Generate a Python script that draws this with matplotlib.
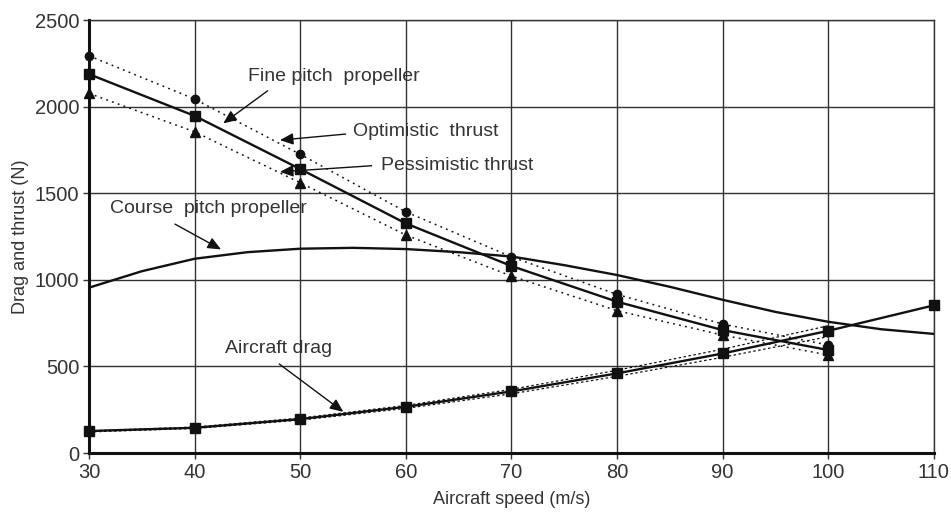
import matplotlib.pyplot as plt

plt.rcParams['font.family'] = ['Liberation Sans', 'DejaVu Sans']

TXT = '#333333'

speed = [30, 40, 50, 60, 70, 80, 90, 100]
fine_pitch = [2188, 1947, 1640, 1326, 1080, 874, 710, 595]
optimistic = [2294, 2044, 1725, 1393, 1133, 916, 745, 624]
pessimistic = [2077, 1855, 1561, 1259, 1022, 822, 681, 566]

course_speed = [30, 35, 40, 45, 50, 55, 60, 65, 70, 75, 80, 85, 90, 95, 100, 105, 110]
course_pitch = [955, 1050, 1122, 1160, 1180, 1185, 1178, 1160, 1135, 1085,
                1028, 960, 885, 815, 758, 715, 688]

drag_speed = [30, 40, 50, 60, 70, 80, 90, 100, 110]
drag = [127, 146, 196, 267, 356, 460, 575, 706, 853]
drag_high = [128, 150, 202, 275, 368, 478, 600, 735]
drag_low = [122, 142, 190, 258, 342, 443, 553, 672]

fig = plt.figure(figsize=(9.51, 5.16), dpi=100)
ax = fig.add_axes([0.0936, 0.122, 0.8884, 0.839])

# thrust curves
ax.plot(speed, optimistic, color='#111', lw=1.1, dashes=(1.2, 2.8),
        marker='o', ms=6, clip_on=False, zorder=3)
ax.plot(speed, pessimistic, color='#111', lw=1.1, dashes=(1.2, 2.8),
        marker='^', ms=6.5, clip_on=False, zorder=3)
ax.plot(speed, fine_pitch, '-', color='#111', lw=1.7, marker='s', ms=6.5,
        clip_on=False, zorder=4)
ax.plot(course_speed, course_pitch, '-', color='#111', lw=1.7, zorder=4)

# drag curves
ax.plot(speed, drag_high, color='#111', lw=0.9, dashes=(2, 2), zorder=3)
ax.plot(speed, drag_low, color='#111', lw=0.9, dashes=(2, 2), zorder=3)
ax.plot(drag_speed, drag, '-', color='#111', lw=1.7, marker='s', ms=6.5,
        clip_on=False, zorder=4)

ax.set_xlim(30, 110)
ax.set_ylim(0, 2500)
ax.set_xticks(range(30, 111, 10))
ax.set_yticks(range(0, 2501, 500))
ax.grid(True, color='#333', lw=1)
ax.set_axisbelow(True)

for s in ['top', 'right']:
    ax.spines[s].set_linewidth(1)
    ax.spines[s].set_color('#333')
for s in ['left', 'bottom']:
    ax.spines[s].set_linewidth(2.2)
    ax.spines[s].set_color('#111')
ax.tick_params(direction='out', length=4, width=1, colors='#333',
               labelsize=14.5, labelcolor=TXT, pad=3)

ax.set_xlabel('Aircraft speed (m/s)', fontsize=13, color=TXT, labelpad=7)
ax.set_ylabel('Drag and thrust (N)', fontsize=13, color=TXT, labelpad=4)

arrow = dict(arrowstyle='-|>,head_length=0.8,head_width=0.35', color='#111',
             lw=1, shrinkA=0, shrinkB=0)
notes = [
    ('Fine pitch  propeller', (45.05, 2173), (46.92, 2092), (42.71, 1904)),
    ('Optimistic  thrust', (54.97, 1855), (54.30, 1842), (48.08, 1807)),
    ('Pessimistic thrust', (57.64, 1663), (56.76, 1659), (48.08, 1624)),
    ('Course  pitch propeller', (31.99, 1415), (38.14, 1322), (42.50, 1176)),
    ('Aircraft drag', (42.88, 604), (48.02, 514), (54.08, 238)),
]
for label, pos, tail, head in notes:
    ax.text(pos[0], pos[1], label, fontsize=14, color=TXT, va='center', ha='left')
    ax.annotate('', xy=head, xytext=tail, arrowprops=arrow, zorder=5)

fig.savefig('out.png', dpi=100)
